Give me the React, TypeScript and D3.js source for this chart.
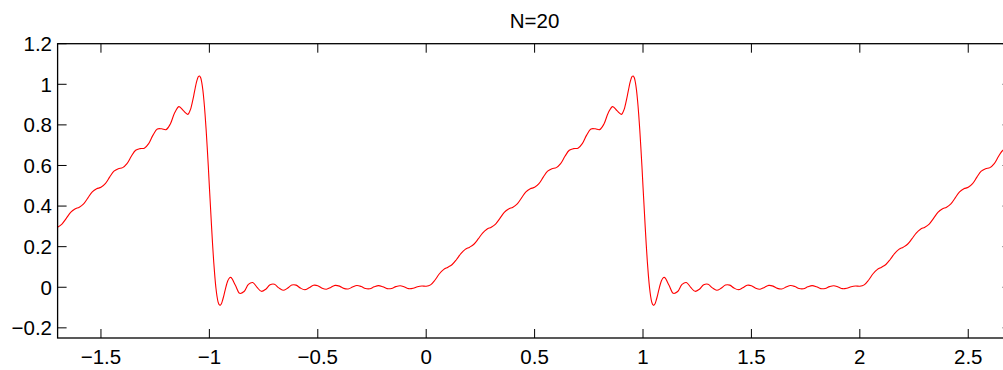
import React from "react";
import * as d3 from "d3";

// One period of the plotted partial sum
const periodX = [
  -1, -0.995, -0.99, -0.985, -0.98, -0.975, -0.97, -0.965, -0.96, -0.955, -0.95, -0.945, -0.94, -0.935,
  -0.93, -0.925, -0.92, -0.915, -0.91, -0.905, -0.9,
  -0.88, -0.86, -0.84, -0.82, -0.8, -0.78, -0.76, -0.74, -0.72, -0.7, -0.68, -0.66, -0.64, -0.62, -0.6,
  -0.58, -0.56, -0.54, -0.52, -0.5, -0.48, -0.46, -0.44, -0.42, -0.4, -0.38, -0.36, -0.34, -0.32, -0.3,
  -0.28, -0.26, -0.24, -0.22, -0.2, -0.18, -0.16, -0.14, -0.12, -0.1, -0.08, -0.06, -0.04, -0.02,
  0, 0.02, 0.04, 0.06, 0.08, 0.1, 0.12, 0.14, 0.16, 0.18, 0.2, 0.22, 0.24, 0.26, 0.28, 0.3,
  0.32, 0.34, 0.36, 0.38, 0.4, 0.42, 0.44, 0.46, 0.48, 0.5, 0.52, 0.54, 0.56, 0.58, 0.6,
  0.62, 0.64, 0.66, 0.68, 0.7, 0.72, 0.74, 0.76, 0.78, 0.8, 0.82, 0.84, 0.86, 0.88,
  0.9, 0.905, 0.91, 0.915, 0.92, 0.925, 0.93, 0.935, 0.94, 0.945, 0.95, 0.955, 0.96, 0.965, 0.97,
  0.975, 0.98, 0.985, 0.99, 0.995,
];
const periodY = [
  0.495, 0.398, 0.3, 0.208, 0.126, 0.056, -0.001, -0.043, -0.072, -0.086, -0.089, -0.082, -0.067, -0.048,
  -0.026, -0.004, 0.016, 0.032, 0.042, 0.048, 0.048,
  0.01, -0.03, -0.021, 0.014, 0.0234, -0.0007, -0.02, -0.0097, 0.0122, 0.0149, -0.003, -0.0149, -0.0052, 0.0107, 0.0105,
  -0.0042, -0.0119, -0.0025, 0.0097, 0.0076, -0.005, -0.0099, -0.0006, 0.0091, 0.0055, -0.0056, -0.0084, 0.0008, 0.0085, 0.0039,
  -0.0061, -0.0071, 0.002, 0.0081, 0.0025, -0.0066, -0.0061, 0.0031, 0.0077, 0.0012, -0.0069, -0.0047, 0.0027, 0.0062,
  0.005, 0.0116, 0.0345, 0.0653, 0.0869, 0.0988, 0.1123, 0.1369, 0.1661, 0.1866, 0.1975, 0.2119, 0.238, 0.2671, 0.2861, 0.2961,
  0.3115, 0.3392, 0.3684, 0.3856, 0.3945, 0.4109, 0.4406, 0.4699, 0.485, 0.4924, 0.5103, 0.5425, 0.5719, 0.5842, 0.5895,
  0.6093, 0.6452, 0.6749, 0.683, 0.6851, 0.7078, 0.7497, 0.78, 0.7807, 0.7766, 0.8047, 0.86, 0.89, 0.87,
  0.852, 0.857, 0.868, 0.883, 0.905, 0.929, 0.956, 0.983, 1.008, 1.027, 1.039, 1.041, 1.032, 1.008, 0.971,
  0.919, 0.854, 0.777, 0.69, 0.597,
];
const periodShifts = [-2, 0, 2];

const xTicks = [-1.5, -1, -0.5, 0, 0.5, 1, 1.5, 2, 2.5];
const xTickLabels = ["\u22121.5", "\u22121", "\u22120.5", "0", "0.5", "1", "1.5", "2", "2.5"];
const yTicks = [-0.2, 0, 0.2, 0.4, 0.6, 0.8, 1, 1.2];
const yTickLabels = ["\u22120.2", "0", "0.2", "0.4", "0.6", "0.8", "1", "1.2"];
const xDomain = [-1.7, 2.7];
const yDomain = [-0.25, 1.2];
const title = "N=20";

export default function App() {
  const W = 1003;
  const H = 370;
  const left = 57.6;
  const right = 1011.6;
  const top = 43.7;
  const bottom = 338;
  const x = d3.scaleLinear().domain(xDomain).range([left, right]);
  const y = d3.scaleLinear().domain(yDomain).range([bottom, top]);

  const pts: [number, number][] = [];
  periodShifts.forEach((s) => {
    periodX.forEach((px, i) => {
      const xx = px + s;
      if (xx >= xDomain[0] - 0.1 && xx <= xDomain[1] + 0.1) pts.push([xx, periodY[i]]);
    });
  });
  pts.sort((a, b) => a[0] - b[0]);

  const line = d3
    .line<[number, number]>()
    .x((d) => x(d[0]))
    .y((d) => y(d[1]))
    .curve(d3.curveCatmullRom.alpha(0.5));

  const tickLen = 9;
  const font = "'Liberation Sans', Arial, sans-serif";
  const fs = 20.5;

  return (
    <svg
      width={W}
      height={H}
      style={{ position: "absolute", left: 0, top: 0, background: "#fff" }}
      fontFamily={font}
    >
      <rect x={0} y={0} width={W} height={H} fill="#fff" />
      <defs>
        <clipPath id="plotclip">
          <rect x={left} y={top} width={right - left} height={bottom - top} />
        </clipPath>
      </defs>
      <path d={line(pts) || ""} fill="none" stroke="#ff0000" strokeWidth={1.1} clipPath="url(#plotclip)" />
      <g stroke="#000" strokeWidth={1}>
        {xTicks.map((t) => (
          <g key={"xt" + t}>
            <line x1={x(t)} x2={x(t)} y1={bottom} y2={bottom - tickLen} />
            <line x1={x(t)} x2={x(t)} y1={top} y2={top + tickLen} />
          </g>
        ))}
        {yTicks.map((t) => (
          <g key={"yt" + t}>
            <line x1={left} x2={left + tickLen} y1={y(t)} y2={y(t)} />
            <line x1={right} x2={right - tickLen} y1={y(t)} y2={y(t)} />
          </g>
        ))}
      </g>
      <rect x={left} y={top} width={right - left} height={bottom - top} fill="none" stroke="#000" strokeWidth={1.3} />
      <g fontSize={fs} fill="#000">
        {xTicks.map((t, i) => (
          <text key={"xl" + t} x={x(t)} y={363.5} textAnchor="middle">
            {xTickLabels[i]}
          </text>
        ))}
        {yTicks.map((t, i) => (
          <text key={"yl" + t} x={52} y={y(t)} dy="0.36em" textAnchor="end">
            {yTickLabels[i]}
          </text>
        ))}
        <text x={(left + right) / 2} y={28} textAnchor="middle">
          {title}
        </text>
      </g>
    </svg>
  );
}
